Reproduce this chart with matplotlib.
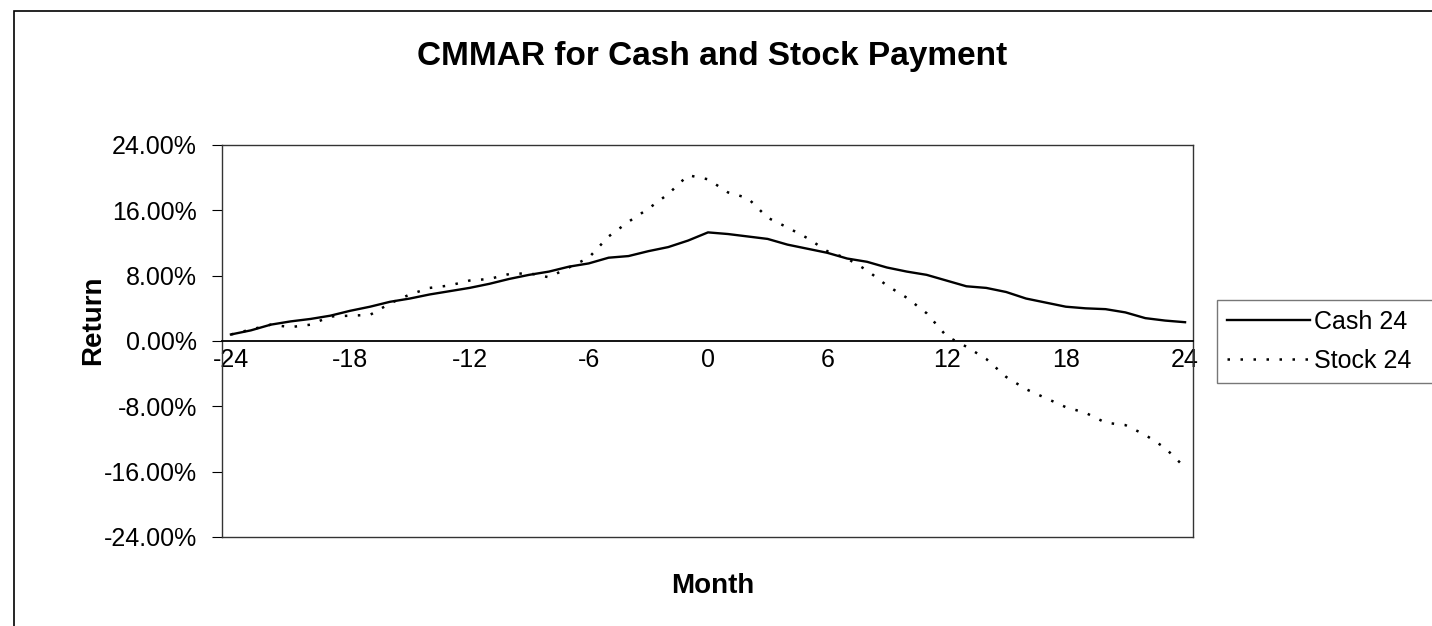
import numpy as np
import matplotlib
matplotlib.use("Agg")
import matplotlib.pyplot as plt
from matplotlib.patches import Rectangle
from matplotlib.ticker import PercentFormatter

months = list(range(-24, 25))

cash_24 = [0.8, 1.3, 2.0, 2.4, 2.7, 3.1, 3.7, 4.2, 4.8, 5.2, 5.7, 6.1, 6.5,
           7.0, 7.6, 8.1, 8.5, 9.1, 9.5, 10.2, 10.4, 11.0, 11.5, 12.3, 13.3,
           13.1, 12.8, 12.5, 11.8, 11.3, 10.8, 10.1, 9.7, 9.0, 8.5, 8.1, 7.4,
           6.7, 6.5, 6.0, 5.2, 4.7, 4.2, 4.0, 3.9, 3.5, 2.8, 2.5, 2.3]

stock_24 = [0.8, 1.4, 2.0, 1.7, 2.0, 3.0, 3.1, 3.2, 4.6, 5.7, 6.5, 6.8, 7.4,
            7.6, 8.2, 8.3, 7.8, 9.0, 10.2, 12.8, 14.6, 16.2, 18.0, 20.3, 19.8,
            18.2, 17.5, 15.1, 13.9, 12.6, 11.0, 10.1, 8.65, 6.8, 5.3, 3.4, 0.6,
            -0.7, -2.2, -4.4, -5.9, -7.0, -8.1, -8.8, -10.0, -10.3, -11.5,
            -13.1, -15.5]

x_ticks = list(range(-24, 25, 6))
y_ticks = [-24, -16, -8, 0, 8, 16, 24]

plt.rcParams['font.family'] = ['Liberation Sans', 'DejaVu Sans']
plt.rcParams['axes.unicode_minus'] = False

fig = plt.figure(figsize=(14.32, 6.26), dpi=100)
ax = fig.add_axes([222 / 1432, 1 - 537 / 626, 971 / 1432, 392 / 626])

# outer chart border (runs off the right and bottom edges)
fig.patches.append(Rectangle((14 / 1432, -0.1), 1.2, 1.1 - 11 / 626,
                             transform=fig.transFigure, fill=False,
                             edgecolor='black', linewidth=1.2))

ax.plot(months, np.array(cash_24) / 100, color='black', linewidth=1.7,
        label='Cash 24')
ax.plot(months, np.array(stock_24) / 100, color='black', linewidth=1.8,
        linestyle=(0, (1, 4.2)), label='Stock 24')

ax.set_xlim(-24.45, 24.4)
ax.set_ylim(-0.24, 0.24)
ax.set_yticks([v / 100 for v in y_ticks])
ax.yaxis.set_major_formatter(PercentFormatter(1.0, decimals=2))
ax.set_xticks(x_ticks)
ax.set_xticklabels([str(t) for t in x_ticks])

# category axis crosses at zero, plot-area box kept around it
for side in ['top', 'right', 'left']:
    ax.spines[side].set_color('#333333')
    ax.spines[side].set_linewidth(1.0)
ax.spines['bottom'].set_position(('data', 0))
ax.spines['bottom'].set_linewidth(1.3)
ax.plot([0, 1], [0, 0], transform=ax.transAxes, color='#333333',
        linewidth=1.0, clip_on=False)

ax.tick_params(axis='y', direction='out', length=7, labelsize=18, pad=11)
ax.tick_params(axis='x', length=0, labelsize=18, pad=5)

ax.set_ylabel('Return', fontsize=20, fontweight='bold')
ax.yaxis.label.set_va('center')
ax.yaxis.set_label_coords(-0.133, 0.554)
ax.set_xlabel('Month', fontsize=20, fontweight='bold')
ax.xaxis.label.set_va('center')
ax.xaxis.set_label_coords(0.505, -0.126)

fig.text(0.497, 0.909, 'CMMAR for Cash and Stock Payment', fontsize=24,
         fontweight='bold', ha='center', va='center')

# legend box runs past the right edge of the image, as in the original
leg = ax.legend(loc='upper left',
                bbox_to_anchor=(1217 / 1432, 1 - 387 / 626, 0.2, 87 / 626),
                bbox_transform=fig.transFigure, mode='expand', fontsize=18,
                handlelength=3.3, handletextpad=0.2, labelspacing=0.6,
                borderaxespad=0, fancybox=False, borderpad=0.4)
leg.get_frame().set_edgecolor('#555555')
leg.get_frame().set_linewidth(1.0)

plt.savefig('out.png', dpi=100)
